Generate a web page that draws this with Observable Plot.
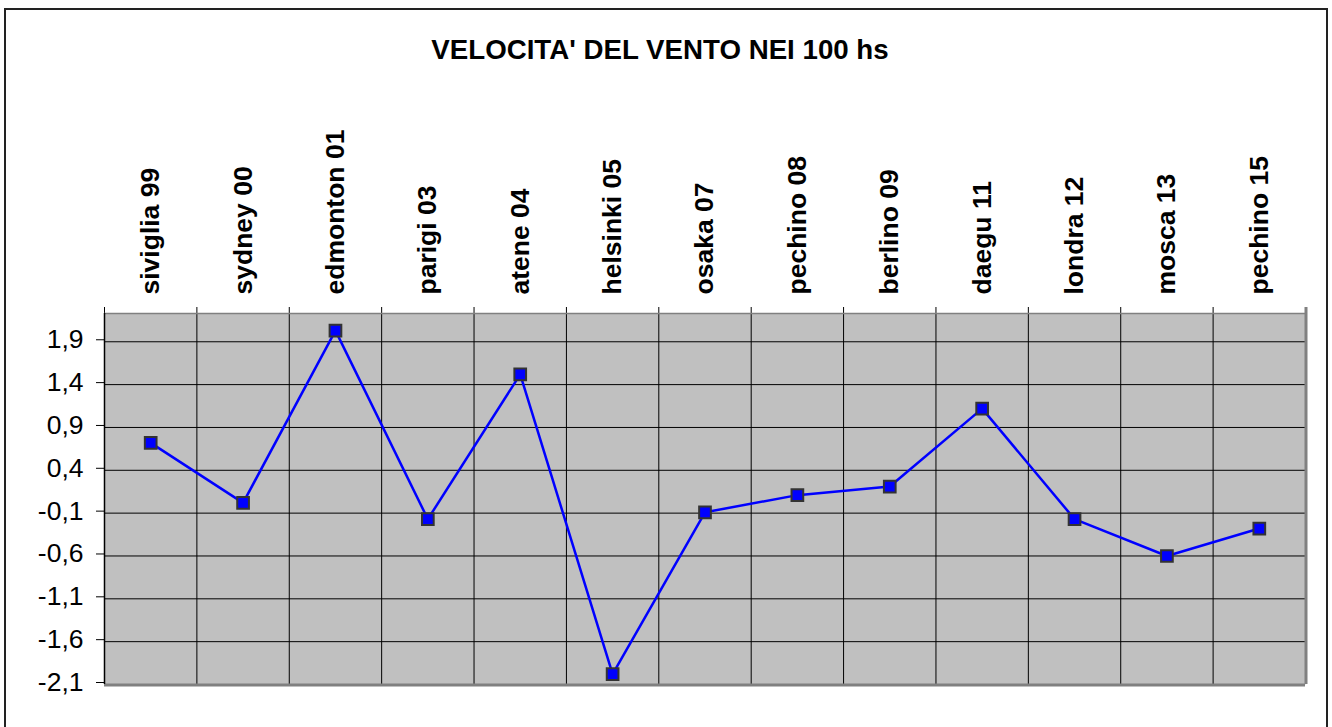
<!DOCTYPE html>
<html>
<head>
<meta charset="utf-8">
<script src="https://cdn.jsdelivr.net/npm/d3@7"></script>
<script src="https://cdn.jsdelivr.net/npm/@observablehq/plot@0.6"></script>
<style>
  html, body { margin: 0; padding: 0; background: #fff; }
  #wrap { position: relative; width: 1332px; height: 727px; overflow: hidden; font-family: Arial, "Liberation Sans", sans-serif; }
  #border { position: absolute; left: 4px; top: 8px; width: 1324px; height: 740px; border: 2px solid #222; box-sizing: border-box; }
  #title { position: absolute; left: 5px; width: 1310px; top: 36px; text-align: center; font-size: 27.7px; line-height: 27px; font-weight: bold; color: #000; }
  #chart { position: absolute; left: 0; top: 0; }
</style>
</head>
<body>
<div id="wrap">
  <div id="border"></div>
  <div id="title">VELOCITA' DEL VENTO NEI 100 hs</div>
  <div id="chart"></div>
</div>
<script>
const categories = ["siviglia 99", "sydney 00", "edmonton 01", "parigi 03", "atene 04", "helsinki 05", "osaka 07", "pechino 08", "berlino 09", "daegu 11", "londra 12", "mosca 13", "pechino 15"];
const windValues = [0.72, 0.02, 2.03, -0.17, 1.52, -1.98, -0.09, 0.11, 0.21, 1.12, -0.17, -0.6, -0.28];
const yTicks = [-2.1, -1.6, -1.1, -0.6, -0.1, 0.4, 0.9, 1.4, 1.9];
const yDomain = [-2.1, 2.23];

const data = categories.map((c, i) => ({cat: c, v: windValues[i]}));

const W = 1332, H = 727;
const mL = 104, mR = 27, mT = 313, mB = 43;
const bw = (W - mL - mR) / categories.length;
const fmt = d => d.toFixed(1).replace(".", ",");

const chart = Plot.plot({
  width: W,
  height: H,
  marginLeft: mL,
  marginRight: mR,
  marginTop: mT,
  marginBottom: mB,
  style: {fontFamily: "Arial, 'Liberation Sans', sans-serif", background: "transparent", color: "#000", overflow: "visible"},
  x: {type: "band", domain: categories, padding: 0, round: false, axis: null},
  y: {domain: yDomain, axis: null},
  marks: [
    Plot.frame({fill: "#c0c0c0", stroke: null}),
    Plot.gridY(yTicks, {stroke: "#000", strokeOpacity: 1, strokeWidth: 1}),
    Plot.ruleX(categories, {x: d => d, dx: -bw / 2, stroke: "#000", strokeWidth: 1, insetTop: -6}),
    Plot.ruleX(categories.slice(-1), {x: d => d, dx: bw / 2 + 0.5, stroke: "#808080", strokeWidth: 3, insetTop: -6}),
    Plot.ruleY([yDomain[0]], {stroke: "#808080", strokeWidth: 3, dy: 0.5}),
    Plot.ruleY([yDomain[1]], {stroke: "#808080", strokeWidth: 1.5}),
    Plot.ruleX(categories.slice(0, 1), {x: d => d, dx: -bw / 2, stroke: "#000", strokeWidth: 1.5}),
    Plot.axisY(yTicks, {anchor: "left", tickSize: 8, tickPadding: 13, tickFormat: fmt, fontSize: 26.5, stroke: "#000", dy: -2, label: null}),
    Plot.text(categories, {x: d => d, text: d => d, frameAnchor: "top", rotate: -90, textAnchor: "start", lineAnchor: "middle", dy: -19, fontSize: 26.5, fontWeight: "bold", fill: "#000"}),
    Plot.line(data, {x: "cat", y: "v", stroke: "#0000ff", strokeWidth: 2.5}),
    Plot.dot(data, {x: "cat", y: "v", symbol: "square", r: 6.6, fill: "#0000ff", stroke: "#333", strokeWidth: 2})
  ]
});
document.getElementById("chart").appendChild(chart);
</script>
</body>
</html>
